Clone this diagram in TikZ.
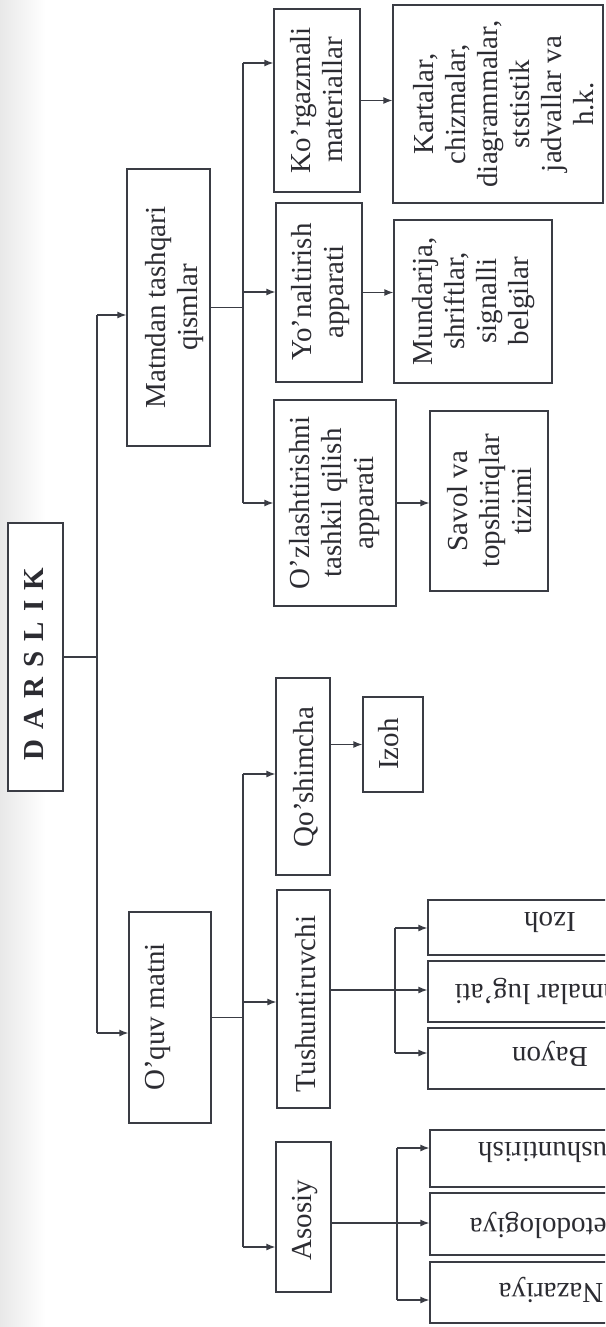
\documentclass[tikz,border=0pt]{standalone}
\usepackage{fontspec}
\setmainfont{Liberation Serif}
\usepackage{graphicx}
\usetikzlibrary{arrows.meta}
\newcommand\ml[1]{\begin{tabular}{@{}c@{}}#1\end{tabular}}
\definecolor{ink}{HTML}{3A3C44}
\definecolor{txt}{HTML}{2C2C32}
\begin{document}
\begin{tikzpicture}[x=1pt,y=-1pt,
  box/.style={draw=ink, line width=1.3pt, rectangle, inner sep=0pt, fill=white},
  lbl/.style={inner sep=0pt, text=txt, font=\fontsize{29}{32}\selectfont},
  ln/.style={draw=ink, line width=1.3pt},
  arr/.style={ln, -{Latex[length=9pt,width=7pt]}}]
\useasboundingbox (0,0) rectangle (605,1327);
\fill[white] (0,0) rectangle (605,1327);
\shade[left color=black!9, right color=white] (0,0) rectangle (45,1327);
\begin{scope}
\clip (0,0) rectangle (605,1327);
% boxes
\node[box, minimum width=55pt, minimum height=268pt] (darslik) at (35.5,657) {};
\node[box, minimum width=83pt, minimum height=277pt] (matndan) at (168.5,307.5) {};
\node[box, minimum width=82pt, minimum height=211pt] (oquv) at (170,1017.5) {};
\node[box, minimum width=86pt, minimum height=183pt] (korgaz) at (317,100.5) {};
\node[box, minimum width=86pt, minimum height=179pt] (yonal) at (319,292.5) {};
\node[box, minimum width=122pt, minimum height=206pt] (ozlash) at (335,503) {};
\node[box, minimum width=210pt, minimum height=198pt] (kartalar) at (498,104) {};
\node[box, minimum width=158pt, minimum height=163pt] (mundar) at (473,301.5) {};
\node[box, minimum width=118pt, minimum height=180pt] (savol) at (489,501) {};
\node[box, minimum width=54pt, minimum height=197pt] (qosh) at (303,776.5) {};
\node[box, minimum width=60pt, minimum height=95pt] (izohA) at (393,744.5) {};
\node[box, minimum width=53pt, minimum height=218pt] (tushun) at (303.5,999) {};
\node[box, minimum width=55pt, minimum height=150pt] (asosiy) at (303.5,1217) {};
\node[box, minimum width=244pt, minimum height=55pt] (izohB) at (550,927.5) {};
\node[box, minimum width=244pt, minimum height=61pt] (atama) at (550,991.5) {};
\node[box, minimum width=244pt, minimum height=61pt] (bayon) at (550,1058.5) {};
\node[box, minimum width=242pt, minimum height=57pt] (tushB) at (551,1158.5) {};
\node[box, minimum width=242pt, minimum height=62pt] (metod) at (551,1224) {};
\node[box, minimum width=242pt, minimum height=61pt] (nazar) at (551,1292.5) {};
% labels
\node[lbl, rotate=90] (darslikT) at (36.6,664) {\ml{\bfseries\spaceskip=10pt\relax D A R S L I K}};
\node[lbl, rotate=90] (matndanT) at (174.6,307.5) {\ml{Matndan tashqari\\qismlar}};
\node[lbl, rotate=90] (oquvT) at (157.6,1017) {\ml{O’quv matni}};
\node[lbl, rotate=90] (korgazT) at (319.6,100) {\ml{Ko’rgazmali\\materiallar}};
\node[lbl, rotate=90] (yonalT) at (320.6,292) {\ml{Yo’naltirish\\apparati}};
\node[lbl, rotate=90] (ozlashT) at (334.6,503) {\ml{O’zlashtirishni\\tashkil qilish\\apparati}};
\node[lbl, rotate=90] (kartalarT) at (506.6,104) {\ml{Kartalar,\\chizmalar,\\diagrammalar,\\ststistik\\jadvallar va\\h.k.}};
\node[lbl, rotate=90] (mundarT) at (473.6,301) {\ml{Mundarija,\\shriftlar,\\signalli\\belgilar}};
\node[lbl, rotate=90] (savolT) at (492.6,501) {\ml{Savol va\\topshiriqlar\\tizimi}};
\node[lbl, rotate=90] (qoshT) at (306.6,777) {\ml{Qo’shimcha}};
\node[lbl, rotate=90] (izohAT) at (391.6,744) {\ml{Izoh}};
\node[lbl, rotate=90] (tushunT) at (308.6,1004) {\ml{Tushuntiruvchi}};
\node[lbl, rotate=90] (asosiyT) at (304.6,1220) {\ml{Asosiy}};
\node[lbl, rotate=180] (izohBT) at (550,918.4) {\ml{Izoh}};
\node[lbl, rotate=180] (atamaT) at (550,990.4) {\ml{Atamalar lug’ati}};
\node[lbl, rotate=180] (bayonT) at (550,1053.4) {\ml{Bayon}};
\node[lbl, rotate=180] (tushBT) at (551,1148.4) {\ml{Tushuntirish}};
\node[lbl, rotate=180] (metodT) at (551,1224.4) {\ml{Metodologiya}};
\node[lbl, rotate=180] (nazarT) at (551,1290) {\ml{Nazariya}};
% level 1 connectors
\coordinate (dtop) at (97,315);
\coordinate (dbot) at (97,1033);
\draw[ln] (dtop) -- (dbot);
\draw[ln] (darslik.east) -- (darslik.east -| dtop);
\draw[arr] (dtop) -- (dtop -| matndan.west);
\draw[arr] (dbot) -- (dbot -| oquv.west);
% Matndan subtree
\coordinate (mtop) at (243,63);
\coordinate (mmid) at (243,292);
\coordinate (mbot) at (243,503);
\draw[ln] (mtop) -- (mbot);
\draw[ln] (matndan.east) -- (matndan.east -| mtop);
\draw[arr] (mtop) -- (mtop -| korgaz.west);
\draw[arr] (mmid) -- (mmid -| yonal.west);
\draw[arr] (mbot) -- (mbot -| ozlash.west);
\draw[arr] (korgaz.east) -- (korgaz.east -| kartalar.west);
\draw[arr] (yonal.east) -- (yonal.east -| mundar.west);
\draw[arr] (ozlash.east) -- (ozlash.east -| savol.west);
% O'quv subtree
\coordinate (otop) at (243,774);
\coordinate (omid) at (243,1002);
\coordinate (obot) at (243,1247);
\draw[ln] (otop) -- (obot);
\draw[ln] (oquv.east) -- (oquv.east -| otop);
\draw[arr] (otop) -- (otop -| qosh.west);
\draw[arr] (omid) -- (omid -| tushun.west);
\draw[arr] (obot) -- (obot -| asosiy.west);
\draw[arr] (qosh.east |- izohA.west) -- (izohA.west);
% Tushuntiruvchi subtree
\coordinate (ttop) at (395,928);
\coordinate (tmid) at (395,990);
\coordinate (tbot) at (395,1053);
\draw[ln] (ttop) -- (tbot);
\draw[ln] (tushun.east |- tmid) -- (tmid);
\draw[arr] (ttop) -- (ttop -| izohB.west);
\draw[arr] (tmid) -- (tmid -| atama.west);
\draw[arr] (tbot) -- (tbot -| bayon.west);
% Asosiy subtree
\coordinate (atop) at (397,1148);
\coordinate (amid) at (397,1223);
\coordinate (abot) at (397,1300);
\draw[ln] (atop) -- (abot);
\draw[ln] (asosiy.east |- amid) -- (amid);
\draw[arr] (atop) -- (atop -| tushB.west);
\draw[arr] (amid) -- (amid -| metod.west);
\draw[arr] (abot) -- (abot -| nazar.west);
\end{scope}
\end{tikzpicture}
\end{document}
